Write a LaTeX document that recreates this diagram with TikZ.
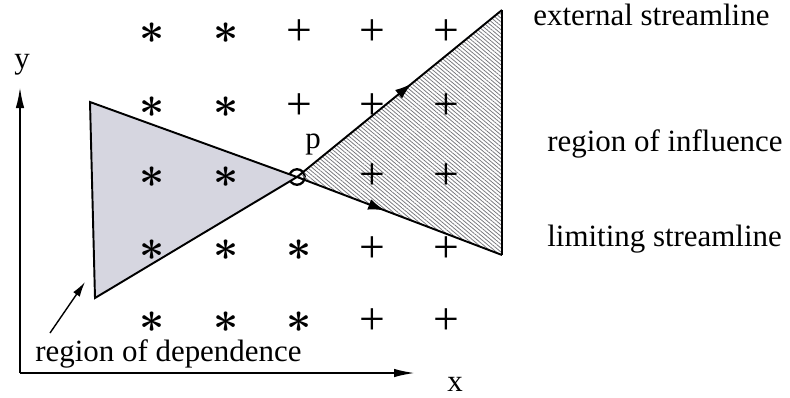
\documentclass[tikz,border=0pt]{standalone}
\usepackage{fontspec}
\setmainfont{Liberation Serif}
\usetikzlibrary{arrows.meta, patterns.meta, decorations.markings}
\definecolor{depgray}{RGB}{214, 214, 224}
\definecolor{hatchgray}{RGB}{120, 120, 125}

\begin{document}
\begin{tikzpicture}[
  x = 0.02cm, y = -0.02cm,
  every node/.style = {font=\fontsize{17.6}{20}\selectfont, inner sep=0pt},
  axis/.style      = {-{Latex[length=0.42cm, width=0.17cm]}, line width=1.1pt},
  edge/.style      = {line width=1.1pt},
  flowmark/.style  = {postaction=decorate, decoration={markings,
                      mark=at position #1 with {\arrow{Latex[length=0.34cm, width=0.22cm]}}}},
  depfill/.style   = {fill=depgray},
  inffill/.style   = {pattern={Lines[angle=-40, distance=1.7pt, line width=0.45pt]},
                      pattern color=hatchgray},
  starmark/.style  = {font=\fontsize{24}{26}\selectfont\boldmath},
  plusmark/.style  = {font=\fontsize{26}{28}\selectfont},
  textlabel/.style = {anchor=base west},
  pointer/.style   = {-{Latex[length=0.3cm, width=0.16cm]}, line width=0.8pt}
]
\useasboundingbox (0,0) rectangle (790,397);

% Axes
\coordinate (origin) at (20,373);
\coordinate (ytip)   at (20,87);
\coordinate (xtip)   at (415,373);
\draw[axis] (origin) -- (ytip);
\draw[axis] (origin) -- (xtip);
\node[anchor=base] (ylab) at (22,68)  {y};
\node[anchor=base] (xlab) at (455,391) {x};

% Point p
\node[draw, circle, minimum size=0.31cm, line width=1.3pt] (p) at (297,177) {};
\node[anchor=base] (plab) at (313,148) {p};

% Region of dependence
\coordinate (dtop) at (90,102);
\coordinate (dbot) at (95,298);
\filldraw[depfill, edge] (dtop) -- (dbot) -- (p.center) -- cycle;

% Region of influence
\coordinate (itop) at (502,10);
\coordinate (ibot) at (502,255);
\fill[inffill] (p.center) -- (itop) -- (ibot) -- cycle;
\draw[edge] (itop) -- (ibot);
\draw[edge, flowmark=0.56] (p.center) -- (itop);
\draw[edge, flowmark=0.43] (p.center) -- (ibot);

% Grid points
\foreach \xx/\yy [count=\i] in {152/33, 226/33, 152/107, 226/107, 152/177, 226/177,
                                152/250, 226/250, 299/250, 152/322, 226/322, 299/322}
  \node[starmark] (star\i) at (\xx,\yy) {$\ast$};
\foreach \xx/\yy [count=\i] in {299/33, 372/33, 446/33, 299/107, 372/107, 446/107,
                                372/177, 446/177, 372/250, 446/250, 372/322, 446/322}
  \node[plusmark] (plus\i) at (\xx,\yy) {+};

% Labels
\node[textlabel] (extlab) at (533,25)  {external streamline};
\node[textlabel] (inflab) at (547,151) {region of influence};
\node[textlabel] (limlab) at (547,246) {limiting streamline};
\node[textlabel] (deplab) at (35,361)  {region of dependence};
\coordinate (deptail) at (50,333);
\coordinate (dephead) at (85,282);
\draw[pointer] (deptail) -- (dephead);

\end{tikzpicture}
\end{document}
